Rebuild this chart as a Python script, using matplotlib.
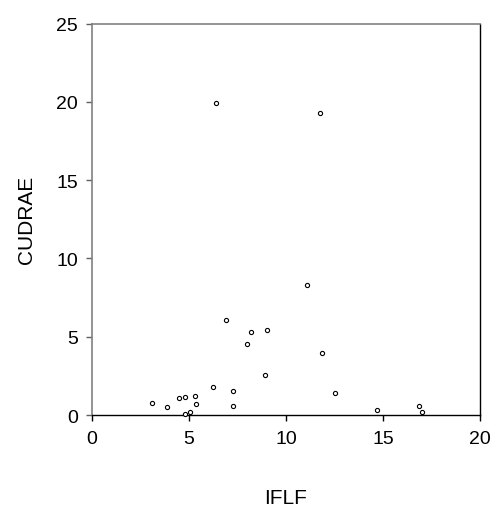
import matplotlib
matplotlib.use("Agg")
import matplotlib.pyplot as plt

plt.rcParams['font.family'] = ['Liberation Sans', 'DejaVu Sans']

iflf = [3.12, 3.87, 4.47, 4.79, 4.79, 5.08, 5.32, 5.38, 6.22, 7.28, 7.30,
        7.97, 8.19, 8.93, 9.04, 11.87, 12.53, 14.69, 16.84, 17.01,
        6.41, 11.77, 6.92, 11.08]
cudrae = [0.79, 0.49, 1.07, 1.15, 0.09, 0.17, 1.20, 0.73, 1.82, 1.53, 0.58,
          4.56, 5.31, 2.56, 5.43, 3.99, 1.39, 0.35, 0.56, 0.19,
          19.93, 19.29, 6.07, 8.31]
xticks = [0, 5, 10, 15, 20]
yticks = [0, 5, 10, 15, 20, 25]

fig = plt.figure(figsize=(4.93, 5.10), dpi=100)
ax = fig.add_axes([0.186, 0.1843, 0.788, 0.7673])
ax.scatter(iflf, cudrae, s=9, facecolors='white', edgecolors='black',
           linewidths=0.8, zorder=3, clip_on=False)
ax.set_xlim(0, 20)
ax.set_ylim(0, 25)
ax.set_xticks(xticks)
ax.set_yticks(yticks)

for side in ['top', 'left']:
    ax.spines[side].set_color('#808080')
    ax.spines[side].set_linewidth(1.2)
for side in ['bottom', 'right']:
    ax.spines[side].set_color('black')
    ax.spines[side].set_linewidth(1.0)

ax.tick_params(axis='x', direction='out', length=4, width=1, color='black',
               labelsize=14, pad=7)
ax.tick_params(axis='y', direction='out', length=4, width=1, color='#606060',
               labelsize=14, pad=6)

ax.set_xlabel('IFLF', fontsize=15, va='center')
ax.xaxis.set_label_coords(0.5, -0.21)
ax.set_ylabel('CUDRAE', fontsize=15, va='center', ha='center')
ax.yaxis.set_label_coords(-0.169, 0.5)

fig.savefig('out.png', dpi=100)
